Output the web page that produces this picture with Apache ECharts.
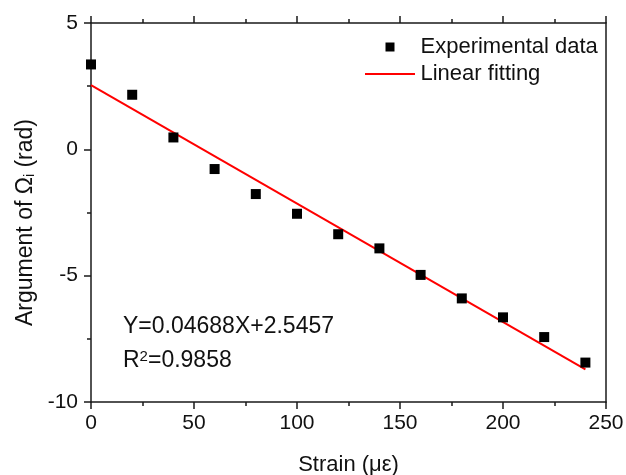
<!DOCTYPE html>
<html>
<head>
<meta charset="utf-8">
<script src="https://cdn.jsdelivr.net/npm/echarts@6/dist/echarts.min.js"></script>
<style>
html, body { margin: 0; padding: 0; background: #fff; }
#chart { width: 626px; height: 475px; }
</style>
</head>
<body>
<div id="chart"></div>
<script>
// strain (micro-strain) and measured argument (rad)
var strainVals = [0, 20, 40, 60, 80, 100, 120, 140, 160, 180, 200, 220, 240];
var argVals = [3.36, 2.16, 0.47, -0.78, -1.77, -2.55, -3.36, -3.92, -4.97, -5.90, -6.65, -7.43, -8.44];
// end points of the linear fit
var fitX = [0, 240];
var fitY = [2.5457, -8.706];

var FONT = 'Liberation Sans, Arial, sans-serif';
var AX = '#1a1a1a';

var expData = strainVals.map(function (x, i) { return [x, argVals[i]]; });
var fitData = fitX.map(function (x, i) { return [x, fitY[i]]; });

var myChart = echarts.init(document.getElementById('chart'));

var axLine = { show: true, onZero: false, lineStyle: { color: AX, width: 1.5 } };
var tick = { show: true, length: 7, lineStyle: { color: AX, width: 1.5 } };
var minor = { show: true, splitNumber: 2, length: 4, lineStyle: { color: AX, width: 1.5 } };

var option = {
    backgroundColor: '#fff',
    animation: false,
    textStyle: { fontFamily: FONT },
    grid: { left: 91, right: 20, top: 23, bottom: 73, containLabel: false, outerBoundsMode: 'none' },
    legend: {
        orient: 'vertical',
        left: 360,
        top: 31,
        itemWidth: 51,
        itemHeight: 10,
        itemGap: 5,
        textStyle: { fontSize: 22, color: '#111', fontFamily: FONT },
        data: [
            // small square centred in a 50px wide box (the move-tos keep the box)
            { name: 'Experimental data', icon: 'path://M0,0M50,10M20.5,0.5h9v9h-9z' },
            { name: 'Linear fitting', icon: 'path://M0,0M50,10M0,4h50v2h-50z' }
        ]
    },
    xAxis: [{
        type: 'value',
        min: 0, max: 250, interval: 50,
        name: 'Strain (\u03bc\u03b5)',
        nameLocation: 'middle',
        nameGap: 52,
        nameTextStyle: { fontSize: 22, color: '#111', fontFamily: FONT },
        axisLine: axLine,
        axisTick: tick,
        minorTick: minor,
        axisLabel: { fontSize: 21, color: '#111', margin: 11, fontFamily: FONT },
        splitLine: { show: false }
    }, {
        type: 'value',
        position: 'top',
        min: 0, max: 250, interval: 50,
        axisLine: axLine,
        axisTick: tick,
        minorTick: minor,
        axisLabel: { show: false },
        splitLine: { show: false }
    }],
    yAxis: [{
        type: 'value',
        min: -10, max: 5, interval: 5,
        name: 'Argument of \u03a9{sub|i} (rad)',
        nameLocation: 'middle',
        nameRotate: 90,
        nameGap: 53,
        nameTextStyle: {
            fontSize: 23, color: '#111', fontFamily: FONT,
            padding: [0, 20, 0, 0],
            rich: { sub: { fontSize: 14, verticalAlign: 'bottom', padding: [9, 0, 0, 0], fontFamily: FONT, color: '#111' } }
        },
        axisLine: axLine,
        axisTick: tick,
        minorTick: minor,
        axisLabel: { fontSize: 21, color: '#111', margin: 13, fontFamily: FONT },
        splitLine: { show: false }
    }, {
        type: 'value',
        position: 'right',
        min: -10, max: 5, interval: 5,
        axisLine: axLine,
        axisTick: { show: false },
        axisLabel: { show: false },
        splitLine: { show: false }
    }],
    graphic: [{
        type: 'text',
        left: 123,
        top: 315,
        style: { text: 'Y=0.04688X+2.5457', font: '23px ' + FONT, fill: '#111' }
    }, {
        type: 'text',
        left: 123,
        top: 349,
        style: {
            text: 'R{sup|2}=0.9858',
            font: '23px ' + FONT,
            fill: '#111',
            rich: { sup: { fontSize: 15, verticalAlign: 'top', padding: [0, 0, 9, 0], fontFamily: FONT, fill: '#111' } }
        }
    }],
    series: [{
        name: 'Experimental data',
        type: 'scatter',
        symbol: 'rect',
        symbolSize: 10,
        itemStyle: { color: '#000', opacity: 1 },
        data: expData,
        z: 3
    }, {
        name: 'Linear fitting',
        type: 'line',
        symbol: 'none',
        lineStyle: { color: '#f00', width: 2 },
        itemStyle: { color: '#f00' },
        data: fitData,
        z: 2
    }]
};

myChart.setOption(option);
</script>
</body>
</html>
